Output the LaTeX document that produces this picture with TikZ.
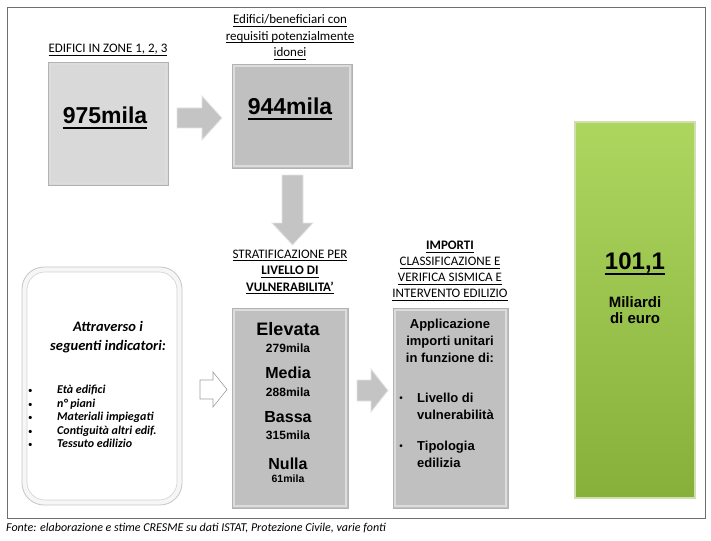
\documentclass[tikz,border=0pt]{standalone}
\usepackage{fontspec}
\setmainfont{Carlito}
\newfontfamily\arialf{Liberation Sans}
\usetikzlibrary{positioning}

\definecolor{boxlight}{RGB}{217,217,217}
\definecolor{boxdark}{RGB}{192,192,192}
\definecolor{arrowgray}{RGB}{196,196,196}
\definecolor{framegray}{RGB}{110,110,110}
\definecolor{greentop}{RGB}{172,214,94}
\definecolor{greenbot}{RGB}{134,176,58}

% sottolineature
\newcommand{\ulx}[1]{\leavevmode\vtop{\hbox{#1}\kern-\prevdepth\kern1.8pt\hrule height 0.8pt}}
\newcommand{\ulbig}[1]{\leavevmode\vtop{\hbox{#1}\kern-\prevdepth\kern3pt\hrule height 1.8pt}}

\tikzset{
  lab/.style={align=center, inner sep=0pt, font=\fontsize{13}{16.5}\selectfont},
  bignum/.style={inner sep=0pt, font=\arialf\bfseries\fontsize{23}{27}\selectfont},
  level/.style={inner sep=0pt, font=\arialf\bfseries\fontsize{16}{19}\selectfont},
  count/.style={inner sep=0pt, font=\arialf\bfseries\fontsize{12}{14}\selectfont},
  boxtext/.style={inner sep=0pt, font=\arialf\bfseries\fontsize{13}{17}\selectfont},
  graybox/.style={draw=gray!60, line width=0.6pt, inner sep=0pt,
    path picture={\draw[white!45!boxdark, line width=1.6pt]
      ([shift={(2pt,-2pt)}]path picture bounding box.north west) rectangle
      ([shift={(-2pt,2pt)}]path picture bounding box.south east);}},
  blockarrow/.style={fill=arrowgray, draw=white!80!gray, line width=0.8pt, line join=miter},
  dot/.style={inner sep=0pt, font=\arialf\fontsize{10}{10}\selectfont},
}

\begin{document}
\begin{tikzpicture}[x=1pt,y=-1pt]
\fill[white] (0,0) rectangle (711,540);
\useasboundingbox (0,0) rectangle (711,540);

% cornice
\draw[framegray, line width=0.8pt] (7,7) rectangle (705,518);

% riga alta
\node[graybox, fill=boxlight, minimum width=120pt, minimum height=123pt] (b975) at (108,123.5) {};
\node[bignum] (n975) at (105,118) {\ulbig{975mila}};
\node[lab] (lab975) at (108,50) {\ulx{EDIFICI IN ZONE 1, 2, 3}};

\node[graybox, fill=boxdark, minimum width=120pt, minimum height=104pt] (b944) at (292,116) {};
\node[bignum] (n944) at (290,109) {\ulbig{944mila}};
\node[lab] (lab944) at (290,37) {\ulx{Edifici/beneficiari con}\\\ulx{requisiti potenzialmente}\\\ulx{idonei}};

\draw[blockarrow] (177,108) -- (202,108) -- (202,96) -- (222,118) -- (202,140) -- (202,128) -- (177,128) -- cycle;
\draw[blockarrow] (282,175) -- (303,175) -- (303,223) -- (313,223) -- (292.5,245) -- (272,223) -- (282,223) -- cycle;

% indicatori
\node[draw=gray!45, fill=gray!7, line width=0.8pt, rounded corners=22pt,
  minimum width=160pt, minimum height=238pt] (lbox) at (102,386) {};
\node[draw=gray!35, fill=white, line width=0.6pt, rounded corners=18pt,
  minimum width=150pt, minimum height=228pt] (lboxin) at (102,386) {};
\node[align=center, inner sep=0pt, font=\bfseries\itshape\fontsize{14.5}{19}\selectfont] (ltitle) at (108,337.5)
  {Attraverso i\\seguenti indicatori:};
\node[align=left, anchor=west, inner sep=0pt, font=\bfseries\itshape\fontsize{12}{13.4}\selectfont] (llist) at (28,416.5)
  {\makebox[29pt][l]{\normalfont\fontsize{9}{10}\selectfont•}Età edifici\\
   \makebox[29pt][l]{\normalfont\fontsize{9}{10}\selectfont•}n° piani\\
   \makebox[29pt][l]{\normalfont\fontsize{9}{10}\selectfont•}Materiali impiegati\\
   \makebox[29pt][l]{\normalfont\fontsize{9}{10}\selectfont•}Contiguità altri edif.\\
   \makebox[29pt][l]{\normalfont\fontsize{9}{10}\selectfont•}Tessuto edilizio};

\draw[draw=gray!75, fill=white, line width=0.6pt, line join=miter]
  (200,380) -- (213,380) -- (213,372) -- (227,389.5) -- (213,407) -- (213,399) -- (200,399) -- cycle;

% stratificazione
\node[lab] (labstrat) at (290,272) {\ulx{STRATIFICAZIONE PER}\\\ulx{\textbf{LIVELLO DI}}\\\ulx{\textbf{VULNERABILITA’}}};
\node[graybox, fill=boxdark, minimum width=116pt, minimum height=200pt] (strat) at (290,408) {};
\node[inner sep=0pt, font=\arialf\bfseries\fontsize{18}{21}\selectfont] (elev) at (288,329) {Elevata};
\node[count] (c279) at (288,348) {279mila};
\node[level] (media) at (288,373) {Media};
\node[count] (c288) at (288,392) {288mila};
\node[level] (bassa) at (288,417) {Bassa};
\node[count] (c315) at (288,435) {315mila};
\node[level] (nulla) at (288,464) {Nulla};
\node[inner sep=0pt, font=\arialf\bfseries\fontsize{10.5}{12}\selectfont] (c61) at (288,479) {61mila};

\draw[blockarrow] (357,380) -- (371,380) -- (371,369) -- (388,390.5) -- (371,412) -- (371,401) -- (357,401) -- cycle;

% importi
\node[lab, font=\fontsize{13}{16}\selectfont] (labimp) at (450,271) {\ulx{\textbf{IMPORTI}}\\\ulx{CLASSIFICAZIONE E}\\\ulx{VERIFICA SISMICA E}\\\ulx{INTERVENTO EDILIZIO}};
\node[graybox, fill=boxdark, minimum width=115pt, minimum height=200pt] (imp) at (450.5,408) {};
\node[boxtext, align=center] (appl) at (450,341) {Applicazione\\importi unitari\\in funzione di:};
\node[boxtext, align=left, anchor=west] (liv) at (417,406.5) {Livello di\\vulnerabilità};
\node[boxtext, align=left, anchor=west] (tip) at (417,454) {Tipologia\\edilizia};
\node[dot] (d1) at (401,399) {•};
\node[dot] (d2) at (401,447) {•};

% totale
\node[draw=white!60!greenbot, line width=1.2pt, top color=greentop, bottom color=greenbot,
  minimum width=120pt, minimum height=376pt] (tot) at (635,310) {};
\node[inner sep=0pt, font=\arialf\bfseries\fontsize{24}{28}\selectfont] (n101) at (635,264) {\ulbig{101,1}};
\node[inner sep=0pt, align=center, font=\arialf\bfseries\fontsize{15}{16}\selectfont] (mld) at (635,310) {Miliardi\\di euro};

% fonte
\node[anchor=west, inner sep=0pt, font=\itshape\fontsize{12}{14}\selectfont] (src) at (6,528)
  {Fonte: elaborazione e stime CRESME su dati ISTAT, Protezione Civile, varie fonti};
\end{tikzpicture}
\end{document}
